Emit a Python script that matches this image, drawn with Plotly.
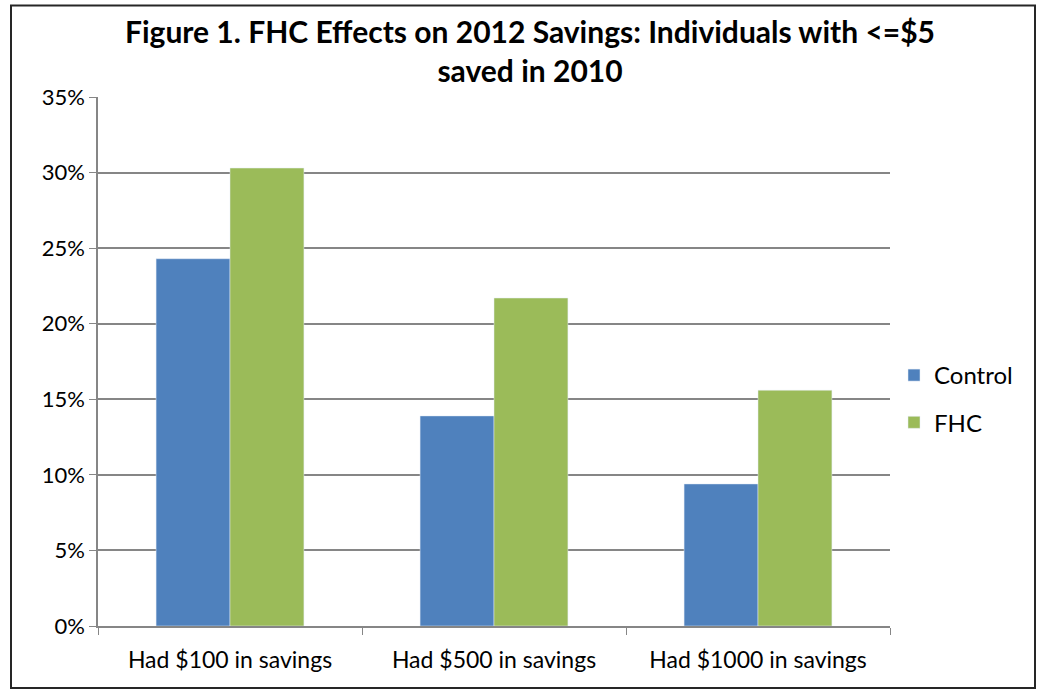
import plotly.graph_objects as go

categories = ["Had $100 in savings", "Had $500 in savings", "Had $1000 in savings"]
control = [0.243, 0.139, 0.094]
fhc = [0.303, 0.217, 0.156]
y_ticks = [0, 0.05, 0.10, 0.15, 0.20, 0.25, 0.30, 0.35]
y_labels = ["0%", "5%", "10%", "15%", "20%", "25%", "30%", "35%"]

W, H = 1039, 689
L, R, T, B = 98, 149, 97, 63
pw, ph = W - L - R, H - T - B

def px_x(x):
    return (x - L) / pw

def px_y(y):
    return (H - B - y) / ph

font_family = "Lato, 'Open Sans', sans-serif"

fig = go.Figure()
fig.add_trace(go.Bar(x=categories, y=control, name="Control", marker_color="#4F81BD",
                     legendgroup="a"))
fig.add_trace(go.Bar(x=categories, y=fhc, name="FHC", marker_color="#9BBB59",
                     legendgroup="b"))

fig.update_layout(
    width=W, height=H,
    margin=dict(l=L, r=R, t=T, b=B),
    paper_bgcolor="white", plot_bgcolor="white",
    barmode="group", bargap=0.44, bargroupgap=0,
    font=dict(family=font_family, size=22, color="black"),
    title=dict(
        text="<b>Figure 1. FHC Effects on 2012 Savings: Individuals with <=$5<br>saved in 2010</b>",
        x=530 / W, xanchor="center", y=1 - 43 / H, yanchor="middle",
        font=dict(size=30, family=font_family, color="black"),
    ),
    legend=dict(
        x=px_x(894), y=px_y(399), xanchor="left", yanchor="middle",
        font=dict(size=24), itemwidth=30, traceorder="grouped", tracegroupgap=13,
        bgcolor="rgba(0,0,0,0)",
    ),
    showlegend=True,
    shapes=[dict(
        type="rect", xref="paper", yref="paper",
        x0=px_x(11), x1=px_x(1035), y0=px_y(688), y1=px_y(5.5),
        line=dict(color="#262626", width=2), fillcolor="rgba(0,0,0,0)",
        layer="below",
    )],
)
fig.update_xaxes(
    type="category", tickson="boundaries", ticks="outside", ticklen=7,
    tickcolor="#868686", showline=True, linecolor="#868686", linewidth=1.5,
    showgrid=False, tickfont=dict(size=23), ticklabelstandoff=13,
)
fig.update_yaxes(
    range=[0, 0.35], tickvals=y_ticks, ticktext=y_labels,
    ticks="outside", ticklen=7, tickcolor="#868686",
    showline=True, linecolor="#868686", linewidth=1.5,
    showgrid=True, gridcolor="#868686", gridwidth=1.5,
    tickfont=dict(size=22), zeroline=False,
)

fig.write_html(
    "out.html",
    config={"displayModeBar": False},
    post_script="document.body.style.margin='0';document.body.style.overflow='hidden';",
)
